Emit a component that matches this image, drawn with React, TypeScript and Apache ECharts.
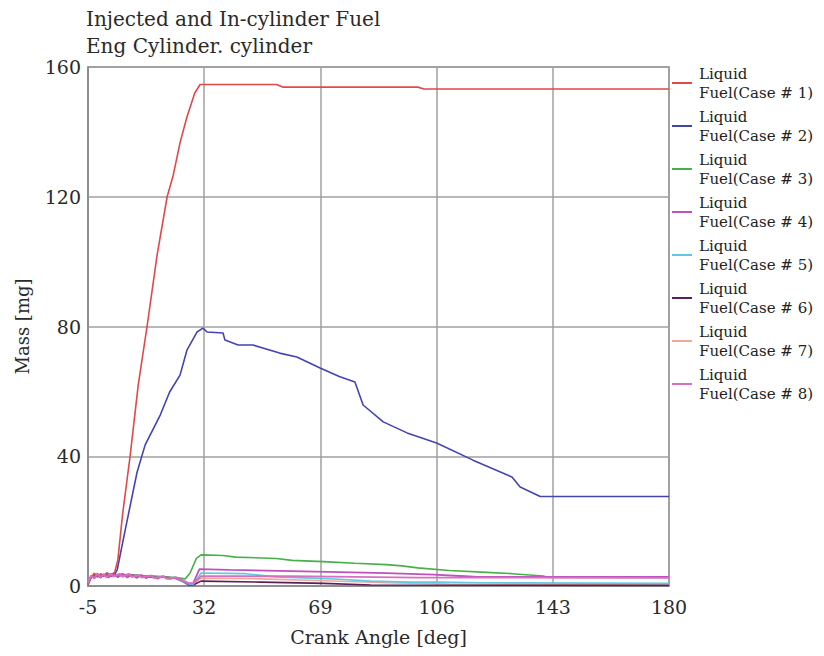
import React, { useEffect, useRef } from "react";
import * as echarts from "echarts";

const xTickLabels = [-5, 32, 69, 106, 143, 180];
const yTicks = [0, 40, 80, 120, 160];

const seriesNames = [
  "Liquid\nFuel(Case # 1)",
  "Liquid\nFuel(Case # 2)",
  "Liquid\nFuel(Case # 3)",
  "Liquid\nFuel(Case # 4)",
  "Liquid\nFuel(Case # 5)",
  "Liquid\nFuel(Case # 6)",
  "Liquid\nFuel(Case # 7)",
  "Liquid\nFuel(Case # 8)",
];

const seriesColors = [
  "#e0484a",
  "#4444b0",
  "#48b048",
  "#c050c0",
  "#60c8e0",
  "#5a1e5a",
  "#f0a898",
  "#d870c0",
];

const case1: number[][] = [
  [-5, 0.5], [-4, 2.6], [-3, 3.9], [-2, 2.7], [-1, 3.8], [0, 3.0], [1, 4.1], [2, 3.3],
  [3.5, 4.2], [4.5, 8], [6, 22], [8.4, 40], [11, 62], [13.8, 80], [17, 102], [20.2, 120],
  [22.1, 126.5], [24.3, 136.6], [26.5, 144.6], [29, 152], [30.7, 154.6], [55, 154.6],
  [57, 153.8], [100, 153.8], [102, 153.2], [180, 153.2],
];

const case2: number[][] = [
  [-5, 0.6], [-4, 2.8], [-2.5, 3.2], [0, 3.4], [2, 3.2], [3.5, 3.6], [4.3, 5],
  [7, 18], [10.6, 35], [13.2, 43.5], [18, 52.7], [21, 59.8], [24.3, 65], [26.5, 72.7],
  [29.7, 78.3], [31.6, 79.5], [32.9, 78.3], [38, 78], [38.6, 75.8], [42.8, 74.3],
  [47.5, 74.3], [56, 71.8], [61.5, 70.6], [68.9, 67.2], [75, 64.6], [80, 62.9],
  [82.6, 55.8], [89, 50.6], [96.6, 47.2], [106, 44.1], [117.6, 38.8], [130, 33.6],
  [132.6, 30.5], [139, 27.6], [180, 27.6],
];

const case3: number[][] = [
  [-5, 0.8], [-4, 3.0], [-2.5, 3.6], [0, 3.2], [2, 3.8], [5, 3.4], [8, 3.6], [11, 3.2],
  [15, 3.0], [19, 2.8], [23, 2.6], [26, 2.2], [27.5, 4], [29.5, 8.5], [31, 9.6],
  [38, 9.4], [42, 8.9], [55, 8.5], [60, 7.9], [70, 7.5], [80, 7.0], [90, 6.6],
  [95, 6.2], [100, 5.6], [110, 4.8], [122, 4.2], [130, 3.8], [140, 3.1], [141.5, 2.6],
  [180, 2.6],
];

const case4: number[][] = [
  [-5, 0.7], [-4, 3.2], [-3, 2.3], [-2, 3.6], [-1, 2.5], [0, 3.6], [1.5, 2.6], [3, 3.7],
  [4.5, 2.7], [6, 3.8], [7.5, 2.6], [9, 3.5], [10.5, 2.5], [12, 3.4], [13.5, 2.4],
  [15, 3.2], [17, 2.3], [19, 3.0], [21, 2.2], [23, 2.6], [25.5, 1.5], [27, 0.8],
  [28.5, 0.9], [30.5, 5.2], [40, 5.0], [60, 4.6], [75, 4.3], [90, 4.0], [105, 3.5],
  [115, 3.0], [119, 2.8], [180, 2.8],
];

const case5: number[][] = [
  [-5, 0.6], [-4, 2.9], [-2.5, 3.5], [0, 3.1], [2, 3.5], [5, 3.2], [8, 3.5], [11, 3.0],
  [15, 3.1], [19, 2.7], [23, 2.4], [25.5, 1.3], [27, 0.6], [28.5, 0.5], [31, 4.0],
  [45, 3.8], [55, 2.8], [75, 2.1], [85, 1.5], [97, 1.2], [106, 1.2], [120, 1.0],
  [180, 0.8],
];

const case6: number[][] = [
  [-5, 0.5], [-4, 2.7], [-2.5, 3.3], [0, 3.5], [2, 3.0], [5, 3.6], [8, 3.2], [11, 3.3],
  [15, 2.8], [19, 2.9], [23, 2.3], [25.5, 1.2], [27, 0.4], [28.5, 0.3], [31, 1.5],
  [50, 1.2], [70, 0.8], [85, 0.3], [180, 0.2],
];

const case7: number[][] = [
  [-5, 0.9], [-4, 3.1], [-2.5, 3.2], [0, 3.3], [2, 3.7], [5, 3.3], [8, 3.4], [11, 3.1],
  [15, 3.2], [19, 2.6], [23, 2.5], [25.5, 1.4], [27, 0.7], [28.5, 0.5], [31, 2.4],
  [50, 2.2], [70, 1.6], [90, 1.0], [110, 0.6], [180, 0.4],
];

const case8: number[][] = [
  [-5, 0.8], [-4, 3.3], [-3, 2.4], [-2, 3.9], [-1, 2.8], [0, 3.6], [1, 2.6], [2, 3.9],
  [3, 2.9], [5, 3.7], [6, 2.8], [8, 3.7], [9, 2.7], [11, 3.4], [12, 2.6], [15, 3.2],
  [16, 2.4], [19, 3.0], [20, 2.2], [23, 2.7], [25.5, 1.6], [27, 0.9], [28.5, 0.8],
  [31, 3.0], [60, 3.0], [80, 2.8], [100, 2.6], [180, 2.5],
];

const allCases = [case1, case2, case3, case4, case5, case6, case7, case8];

const FONT = "'DejaVu Serif', 'Liberation Serif', serif";

export default function App() {
  const ref = useRef<HTMLDivElement>(null);
  useEffect(() => {
    if (!ref.current) return;
    const chart = echarts.init(ref.current, undefined, { renderer: "svg" });
    const xMin = xTickLabels[0];
    const xMax = xTickLabels[xTickLabels.length - 1];
    const step = xTickLabels[1] - xTickLabels[0];
    chart.setOption({
      animation: false,
      backgroundColor: "#ffffff",
      title: {
        text: "Injected and In-cylinder Fuel\nEng Cylinder. cylinder",
        left: 86,
        top: 5,
        padding: 0,
        textStyle: {
          fontFamily: FONT,
          fontSize: 20,
          fontWeight: "normal",
          color: "#2a2a2a",
          lineHeight: 27,
        },
      },
      legend: {
        orient: "vertical",
        left: 672,
        top: 64,
        padding: 0,
        itemWidth: 20,
        itemHeight: 10,
        itemGap: 5,
        icon: "path://M0,4 L20,4 L20,6 L0,6 Z",
        textStyle: {
          fontFamily: FONT,
          fontSize: 15,
          lineHeight: 19,
          color: "#222",
          padding: [0, 0, 0, 2],
        },
        data: seriesNames,
      },
      grid: {
        left: 88,
        right: 155,
        top: 67,
        bottom: 70,
        show: true,
        borderColor: "#888",
        borderWidth: 1.5,
      },
      xAxis: [
        {
          type: "value",
          min: xMin,
          max: xMax,
          axisLine: { show: false },
          axisTick: { show: false },
          axisLabel: { show: false },
          splitLine: { show: false },
        },
        {
          type: "value",
          min: 0,
          max: xMax - xMin,
          interval: step,
          position: "bottom",
          name: "Crank Angle [deg]",
          nameLocation: "middle",
          nameGap: 41,
          nameTextStyle: { fontFamily: FONT, fontSize: 19, color: "#2a2a2a" },
          axisLine: { show: true, onZero: false, lineStyle: { color: "#888", width: 1.5 } },
          axisTick: { show: false },
          axisLabel: {
            fontFamily: FONT,
            fontSize: 19,
            color: "#2a2a2a",
            margin: 11,
            formatter: (v: number) => String(v + xMin),
          },
          splitLine: { show: true, lineStyle: { color: "#a0a0a0", width: 1.5 } },
        },
      ],
      yAxis: {
        type: "value",
        min: yTicks[0],
        max: yTicks[yTicks.length - 1],
        interval: yTicks[1] - yTicks[0],
        name: "Mass [mg]",
        nameLocation: "middle",
        nameGap: 57,
        nameTextStyle: { fontFamily: FONT, fontSize: 18, color: "#2a2a2a" },
        axisLine: { show: true, onZero: false, lineStyle: { color: "#888", width: 1.5 } },
        axisTick: { show: false },
        axisLabel: { fontFamily: FONT, fontSize: 19, color: "#2a2a2a", margin: 7 },
        splitLine: { show: true, lineStyle: { color: "#a0a0a0", width: 1.5 } },
      },
      series: allCases.map((d, i) => ({
        name: seriesNames[i],
        type: "line",
        xAxisIndex: 0,
        data: d,
        symbol: "none",
        showSymbol: false,
        z: i === 7 ? 12 : i === 3 ? 11 : 10 - i,
        lineStyle: { color: seriesColors[i], width: i === 7 || i === 3 ? 1.8 : 1.6 },
        itemStyle: { color: seriesColors[i] },
      })),
    });
    return () => chart.dispose();
  }, []);
  return (
    <div
      ref={ref}
      style={{ position: "absolute", left: 0, top: 0, width: 824, height: 656 }}
    />
  );
}
